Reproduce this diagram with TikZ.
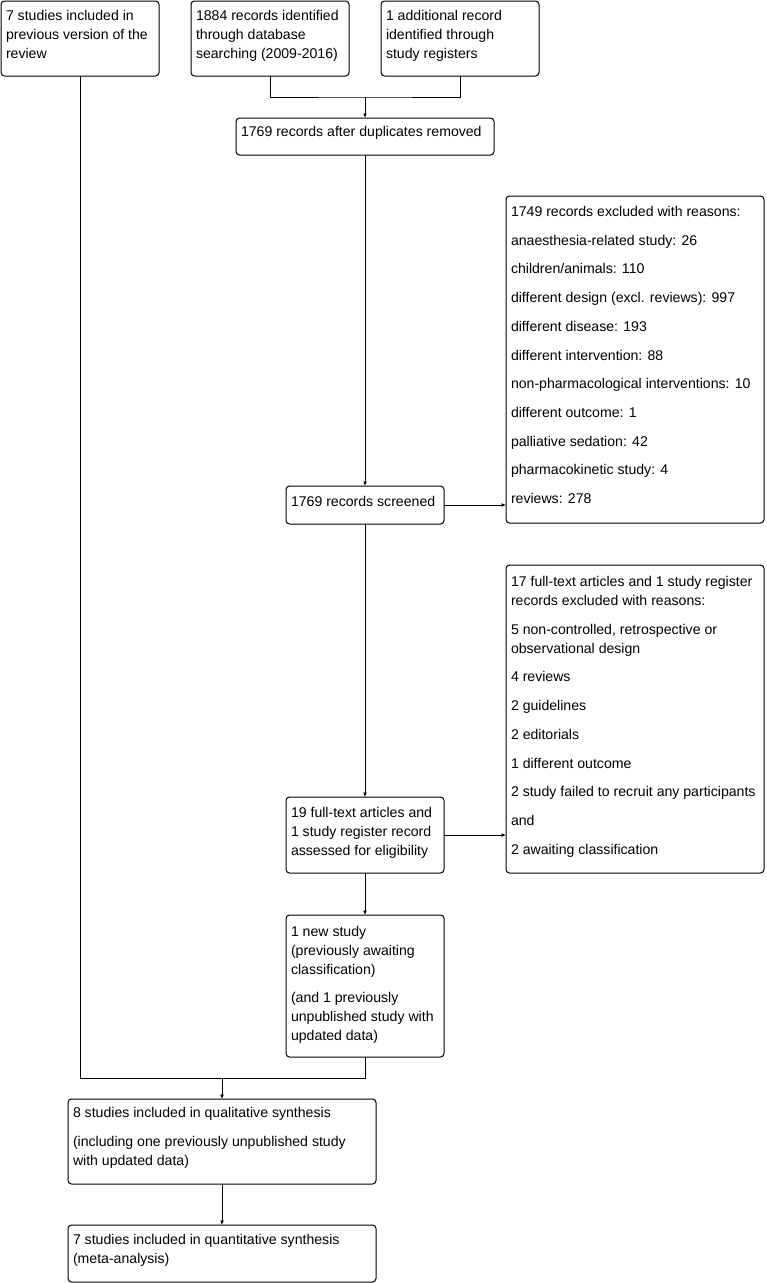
\documentclass[tikz,border=0pt]{standalone}
\usepackage{fontspec}
\setmainfont{Liberation Sans}
\usetikzlibrary{arrows.meta}
\newcommand{\tbox}[2]{\parbox[t]{#1}{\fontsize{14.1}{19}\selectfont\raggedright\parskip=9.7pt #2}}
\begin{document}
\begin{tikzpicture}[x=1pt,y=-1pt,
  box/.style={draw=black, line width=1pt, rounded corners=3.5pt, anchor=north west, inner sep=0pt, outer sep=0pt},
  txt/.style={anchor=base west, inner sep=0pt, outer sep=0pt},
  line/.style={draw=black, line width=1pt},
  arr/.style={line, -{Latex[length=4.5pt,width=4pt]}}]
\useasboundingbox[fill=white] (0,0) rectangle (767,1283);
% boxes
\node[box, minimum width=158pt, minimum height=75pt] (A) at (1,1) {};
\node[box, minimum width=158pt, minimum height=75pt] (B) at (191,1) {};
\node[box, minimum width=158pt, minimum height=75pt] (C) at (381,1) {};
\node[box, minimum width=258pt, minimum height=37pt] (D) at (236,118) {};
\node[box, minimum width=158pt, minimum height=38pt] (E) at (286,486) {};
\node[box, minimum width=258pt, minimum height=327pt] (F) at (506,196) {};
\node[box, minimum width=158pt, minimum height=76pt] (G) at (286,797) {};
\node[box, minimum width=258pt, minimum height=308pt] (H) at (506,565) {};
\node[box, minimum width=158pt, minimum height=142pt] (I) at (286,915) {};
\node[box, minimum width=308pt, minimum height=85pt] (J) at (68,1099) {};
\node[box, minimum width=308pt, minimum height=57pt] (K) at (68,1225) {};
% texts
\node[txt] (At) at ([shift={(5,19)}]A.north west) {\tbox{150pt}{7 studies included in\\previous version of the\\review}};
\node[txt] (Bt) at ([shift={(5,19)}]B.north west) {\tbox{150pt}{1884 records identified\\through database\\searching (2009-2016)}};
\node[txt] (Ct) at ([shift={(5,19)}]C.north west) {\tbox{150pt}{1 additional record\\identified through\\study registers}};
\node[txt] (Dt) at ([shift={(5,18.5)}]D.north west) {\tbox{250pt}{1769 records after duplicates removed}};
\node[txt] (Et) at ([shift={(5,20)}]E.north west) {\tbox{150pt}{1769 records screened}};
\node[txt] (Ft) at ([shift={(5,20.5)}]F.north west) {\tbox{252pt}{1749 records excluded with reasons:\par
anaesthesia-related study: 26\par
children/animals: 110\par
different design (excl. reviews): 997\par
different disease: 193\par
different intervention: 88\par
non-pharmacological interventions: 10\par
different outcome: 1\par
palliative sedation: 42\par
pharmacokinetic study: 4\par
reviews: 278}};
\node[txt] (Gt) at ([shift={(5,20)}]G.north west) {\tbox{150pt}{19 full-text articles and\\1 study register record\\assessed for eligibility}};
\node[txt] (Ht) at ([shift={(5,21.5)}]H.north west) {\tbox{254pt}{17 full-text articles and 1 study register\\records excluded with reasons:\par
5 non-controlled, retrospective or\\observational design\par
4 reviews\par
2 guidelines\par
2 editorials\par
1 different outcome\par
2 study failed to recruit any participants\par
and\par
2 awaiting classification}};
\node[txt] (It) at ([shift={(5,21)}]I.north west) {\tbox{150pt}{1 new study\\(previously awaiting\\classification)\par
(and 1 previously\\unpublished study with\\updated data)}};
\node[txt] (Jt) at ([shift={(5,18.5)}]J.north west) {\tbox{300pt}{8 studies included in qualitative synthesis\par
(including one previously unpublished study\\with updated data)}};
\node[txt] (Kt) at ([shift={(5,19)}]K.north west) {\tbox{300pt}{7 studies included in quantitative synthesis\\(meta-analysis)}};
% connectors
\coordinate (m1) at (365,97);
\coordinate (m2) at (222,1078);
\draw[line] (B.south) |- (m1) -| (C.south);
\draw[arr] (m1) -- (D.north);
\draw[arr] (D.south) -- (E.north);
\draw[arr] (E.east) -- (E.east -| F.west);
\draw[arr] (E.south) -- (G.north);
\draw[arr] (G.east) -- (G.east -| H.west);
\draw[arr] (G.south) -- (I.north);
\draw[line] (A.south) |- (m2) -| (I.south);
\draw[arr] (m2) -- (J.north);
\draw[arr] (J.south) -- (K.north);
\end{tikzpicture}
\end{document}
